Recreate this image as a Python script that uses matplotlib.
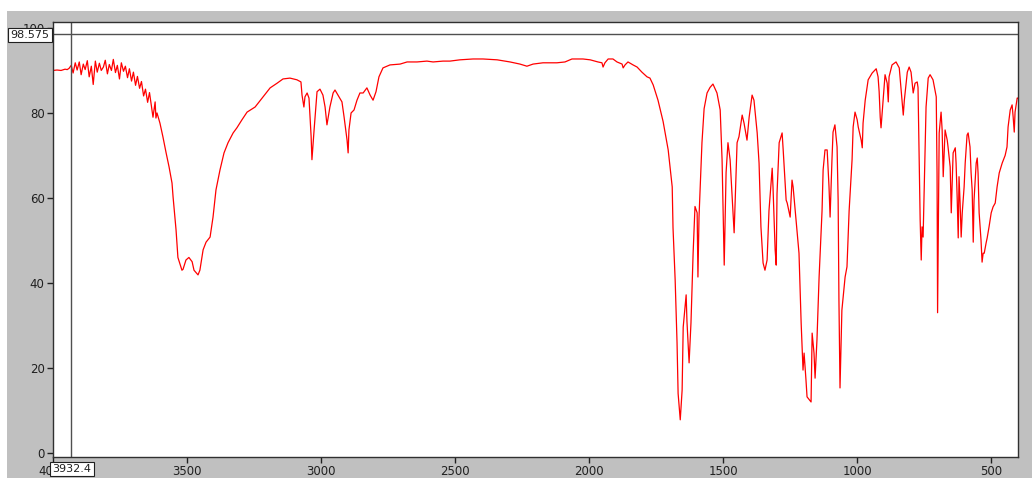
import numpy as np
import matplotlib
matplotlib.use("Agg")
import matplotlib.pyplot as plt
from matplotlib.patches import Rectangle

# IR spectrum: wavenumber (cm-1) and %T
wn = [4000, 3985, 3970, 3955, 3947,
      3940, 3932, 3925, 3917, 3910, 3902, 3895, 3887, 3880, 3872, 3865, 3857,
      3850, 3842, 3835, 3827, 3820, 3812, 3805, 3797, 3790, 3782, 3775, 3767,
      3760, 3752, 3745, 3737, 3730, 3722, 3715, 3707, 3700, 3692, 3685, 3677,
      3670, 3662, 3655, 3647, 3640,
      3627, 3619, 3616, 3612, 3601, 3590, 3578, 3567, 3556, 3552, 3541, 3534,
      3519, 3515, 3504, 3493, 3481, 3474, 3459, 3452, 3440, 3429, 3414, 3403,
      3392, 3377, 3362, 3347, 3328, 3314, 3295, 3276, 3246, 3220, 3190, 3164,
      3142, 3116, 3090, 3075, 3071, 3064, 3060, 3052, 3045, 3037, 3034, 3026,
      3015, 3004, 2993, 2985, 2978, 2967, 2955, 2948, 2937, 2922, 2914, 2903,
      2899, 2896, 2888, 2877, 2866, 2855, 2843, 2829, 2817, 2806, 2795, 2784,
      2769, 2743, 2705, 2679, 2642, 2605, 2582, 2545, 2519, 2482, 2433, 2396,
      2343, 2295, 2258, 2232, 2209, 2172, 2120, 2090, 2064, 2023, 1996, 1967,
      1952, 1948, 1941, 1929, 1911, 1896, 1877, 1873, 1866, 1855, 1836, 1821,
      1803, 1784, 1773, 1761, 1743, 1724, 1705, 1690, 1687, 1679, 1672, 1668,
      1660, 1653, 1649, 1638, 1635, 1627, 1620, 1612, 1605, 1597, 1594, 1590,
      1579, 1571, 1560, 1549, 1538, 1523, 1511, 1504, 1496, 1489, 1482, 1474,
      1467, 1459, 1448, 1441, 1429, 1422, 1411, 1403, 1392, 1385, 1373, 1366,
      1359, 1351, 1344, 1336, 1329, 1317, 1314, 1306, 1302, 1299, 1291, 1280,
      1276, 1265, 1261, 1250, 1243, 1239, 1224, 1217, 1209, 1202, 1198, 1191,
      1187, 1172, 1168, 1161, 1157, 1150, 1142, 1131, 1127, 1120, 1112, 1105,
      1101, 1094, 1090, 1083, 1075, 1071, 1068, 1064, 1057, 1045, 1038, 1030,
      1019, 1015, 1008, 1000, 996, 985, 981, 978, 970, 959, 944, 929,
      922, 918, 914, 911, 903, 896, 888, 884, 881, 870, 855, 843,
      832, 828, 824, 813, 806, 799, 791, 784, 776, 773, 769, 765,
      761, 758, 754, 750, 743, 735, 728, 717, 705, 702, 700, 698,
      694, 687, 683, 679, 672, 664, 661, 653, 649, 646, 642, 634,
      631, 627, 623, 620, 616, 612, 608, 601, 597, 590, 586, 579,
      575, 571, 567, 564, 556, 552, 549, 545, 538, 534, 530, 526,
      519, 515, 508, 500, 493, 485, 478, 470, 459, 448, 441, 437,
      429, 422, 418, 414, 411, 403, 400]

trans = [90.0, 90.1, 90.0, 90.3, 90.2,
         90.5, 91.2, 89.4, 91.8, 90.1, 92.0, 89.0, 91.5, 90.2, 92.3, 88.5, 91.0,
         86.7, 92.2, 89.6, 91.7, 90.0, 90.8, 92.4, 89.2, 91.4, 90.0, 92.6, 89.5,
         91.2, 88.0, 91.8, 89.8, 91.0, 88.3, 90.4, 87.5, 89.6, 86.5, 88.6, 85.8,
         87.4, 84.0, 85.6, 82.5, 84.8,
         79.0, 82.6, 78.8, 80.0, 77.6, 74.4, 70.6, 67.3, 63.5, 60.2, 52.5, 46.0,
         43.0, 43.2, 45.4, 46.0, 45.0, 43.0, 41.9, 43.0, 47.8, 49.6, 50.8, 55.5,
         61.9, 66.6, 70.6, 73.0, 75.3, 76.5, 78.4, 80.2, 81.4, 83.5, 85.9, 87.0,
         88.0, 88.2, 87.8, 87.3, 84.2, 81.4, 83.8, 84.7, 83.5, 74.4, 69.0, 76.0,
         85.0, 85.6, 84.2, 81.4, 77.2, 81.4, 84.7, 85.4, 84.2, 82.6, 79.0, 73.6,
         70.6, 76.0, 80.0, 80.7, 83.0, 84.7, 84.7, 85.9, 84.2, 83.0, 85.0, 88.5,
         90.6, 91.3, 91.5, 92.0, 92.0, 92.2, 92.0, 92.2, 92.2, 92.5, 92.7, 92.7,
         92.5, 92.0, 91.5, 91.0, 91.5, 91.8, 91.8, 92.0, 92.7, 92.7, 92.5, 92.0,
         91.8, 90.8, 91.8, 92.7, 92.7, 92.0, 91.5, 90.6, 91.3, 92.0, 91.3, 90.8,
         89.6, 88.5, 88.2, 86.6, 83.0, 78.0, 71.3, 62.6, 53.0, 40.7, 26.0, 14.0,
         7.8, 14.8, 29.6, 37.2, 31.0, 21.2, 30.6, 47.0, 58.0, 56.5, 41.4, 55.5,
         73.0, 81.0, 84.7, 86.0, 86.8, 84.7, 80.7, 69.0, 44.2, 66.0, 73.0, 69.0,
         61.0, 51.8, 73.0, 74.4, 79.5, 77.6, 73.6, 79.0, 84.2, 83.0, 75.3, 68.2,
         53.2, 44.7, 43.0, 45.4, 57.0, 67.0, 62.6, 47.8, 44.2, 61.0, 73.0, 75.3,
         71.3, 59.5, 58.8, 55.5, 64.2, 62.6, 51.8, 47.0, 30.6, 19.5, 23.5, 17.2,
         13.2, 12.0, 28.2, 23.5, 17.6, 26.6, 41.4, 57.0, 66.6, 71.3, 71.3, 62.6,
         55.5, 69.0, 75.5, 77.2, 72.0, 59.5, 36.0, 15.3, 33.6, 41.4, 43.8, 57.0,
         69.0, 76.7, 80.2, 78.4, 76.7, 73.6, 71.8, 77.6, 83.0, 87.8, 89.4, 90.4,
         88.5, 85.0, 79.0, 76.5, 83.0, 89.0, 87.0, 82.6, 88.5, 91.3, 92.0, 90.6,
         82.4, 79.5, 83.0, 89.6, 90.8, 89.6, 84.7, 87.0, 87.3, 86.0, 69.6, 54.8,
         45.4, 53.2, 50.8, 61.9, 81.4, 88.2, 89.0, 87.8, 83.8, 65.9, 33.0, 47.0,
         75.3, 80.2, 76.0, 65.0, 76.0, 73.6, 72.0, 67.3, 56.5, 62.6, 70.6, 71.8,
         68.2, 60.2, 50.6, 65.0, 58.8, 50.8, 56.5, 62.6, 68.2, 74.8, 75.3, 72.0,
         65.9, 61.9, 49.6, 59.5, 68.2, 69.4, 65.9, 56.5, 50.1, 44.9, 47.0, 47.0,
         49.4, 50.6, 53.2, 56.5, 57.9, 58.8, 62.6, 65.9, 68.2, 70.0, 72.0, 76.7,
         80.7, 81.9, 79.0, 75.5, 80.2, 83.5, 83.5]

cursor_x = 3932.4
cursor_y = 98.575
xticks = [4000, 3500, 3000, 2500, 2000, 1500, 1000, 500]
yticks = [0, 20, 40, 60, 80, 100]

W, H = 1032, 478
fig = plt.figure(figsize=(W / 100, H / 100), dpi=100, facecolor="white")
# grey window background, behind the axes
bg = Rectangle((7 / W, 0), 1, (H - 11) / H, transform=fig.transFigure,
               facecolor="#c0c0c0", edgecolor="none", zorder=-10)
fig.add_artist(bg)

ax = fig.add_axes([53 / W, (H - 457) / H, (1018 - 53) / W, (457 - 22) / H])
ax.set_facecolor("white")
ax.plot(wn, trans, color="#ff0000", lw=0.9)

ax.set_xlim(4000, 400)
ax.set_ylim(-0.95, 101.4)
ax.set_xticks(xticks)
ax.set_yticks(yticks)
ax.tick_params(direction="out", length=4, width=1, color="#202020",
               labelsize=8.5, labelcolor="#202020", pad=2)
for s in ax.spines.values():
    s.set_color("#303030")
    s.set_linewidth(1)

# cursor crosshair
ax.axvline(cursor_x, color="#505050", lw=1)
ax.axhline(cursor_y, color="#505050", lw=1)

# cursor readouts sit over the first tick labels, as in the screenshot
box = dict(boxstyle="square,pad=0.22", facecolor="white", edgecolor="#202020", lw=0.8)
fig.text(30 / W, 1 - 35 / H, f"{cursor_y:.3f}", ha="center", va="center",
         fontsize=8, color="#202020", bbox=box, zorder=5)
fig.text(72 / W, 1 - 469 / H, f"{cursor_x:.1f}", ha="center", va="center",
         fontsize=8, color="#202020", bbox=box, zorder=5)

fig.savefig("out.png", dpi=100, facecolor="white")
